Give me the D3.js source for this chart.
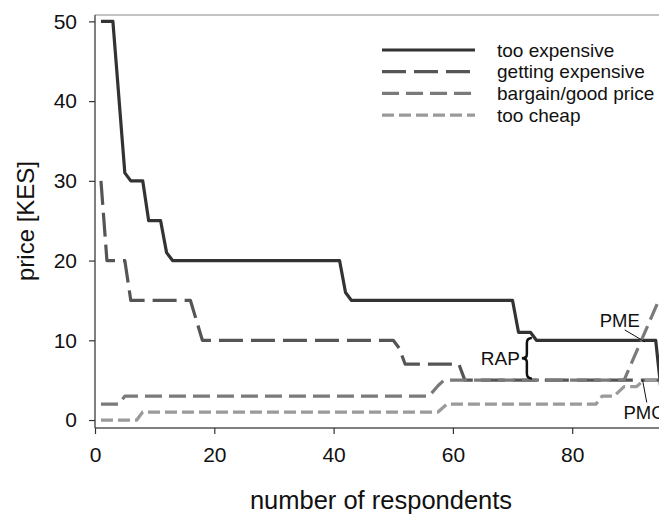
<!DOCTYPE html>
<html>
<head>
<meta charset="utf-8">
<script src="https://cdn.jsdelivr.net/npm/d3@7"></script>
<style>
  body { margin: 0; background: #fff; }
  svg { display: block; font-family: "Liberation Sans", Arial, sans-serif; }
</style>
</head>
<body>
<div id="chart"></div>
<script>
// Van Westendorp curves
const tooExpX = [1, 3, 5, 6, 8, 9, 11, 12, 13, 41, 42, 43, 70, 71, 73, 74, 94, 95];
const tooExpY = [50, 50, 31, 30, 30, 25, 25, 21, 20, 20, 16, 15, 15, 11, 11, 10, 10, 3];

const gettingExpX = [1, 2, 5, 6, 16, 18, 50, 51, 52, 61, 62, 95];
const gettingExpY = [30, 20, 20, 15, 15, 10, 10, 9, 7, 7, 5, 5];

const bargainX = [1, 4, 5, 56, 57.5, 58.5, 88.7, 94.5];
const bargainY = [2, 2, 3, 3, 4.3, 5, 5, 15];

const tooCheapX = [1, 7, 8, 57.5, 59, 84, 85, 87, 88.7, 90.8, 92, 95];
const tooCheapY = [0, 0, 1, 1, 2, 2, 3, 3, 4.2, 4.2, 5, 5];

const seriesNames = ["too expensive", "getting expensive", "bargain/good price", "too cheap"];
const xTicks = [0, 20, 40, 60, 80];
const yTicks = [0, 10, 20, 30, 40, 50];

const series = [
    { name: seriesNames[0], x: tooExpX, y: tooExpY, color: "#333", dash: null },
    { name: seriesNames[1], x: gettingExpX, y: gettingExpY, color: "#555", dash: "24,8" },
    { name: seriesNames[2], x: bargainX, y: bargainY, color: "#7a7a7a", dash: "17,7" },
    { name: seriesNames[3], x: tooCheapX, y: tooCheapY, color: "#9a9a9a", dash: "12,5" }
];

const W = 659, H = 514;
const plotLeft = 95, plotTop = 15, plotBottom = 428;

const x = d3.scaleLinear().domain([0, 100]).range([plotLeft, plotLeft + 100 * 5.965]);
const y = d3.scaleLinear().domain([-1, 50.8]).range([plotBottom, plotTop]);

const svg = d3.select("#chart").append("svg")
    .attr("width", W)
    .attr("height", H);

svg.append("defs").append("clipPath").attr("id", "plot")
    .append("rect")
    .attr("x", plotLeft).attr("y", plotTop)
    .attr("width", W - plotLeft).attr("height", plotBottom - plotTop);

// top border
svg.append("line")
    .attr("x1", plotLeft).attr("x2", W)
    .attr("y1", plotTop).attr("y2", plotTop)
    .attr("stroke", "#888").attr("stroke-width", 1.2);

// axes
const xAxis = svg.append("g")
    .attr("transform", `translate(0,${plotBottom})`)
    .call(d3.axisBottom(x).tickValues(xTicks).tickSize(6).tickPadding(13));
const yAxis = svg.append("g")
    .attr("transform", `translate(${plotLeft},0)`)
    .call(d3.axisLeft(y).tickValues(yTicks).tickSize(6).tickPadding(12));

[xAxis, yAxis].forEach(g => {
    g.select(".domain").attr("stroke", "#555").attr("stroke-width", 1.5);
    g.selectAll(".tick line").attr("stroke", "#333").attr("stroke-width", 1.2);
    g.selectAll(".tick text")
        .attr("fill", "#111")
        .style("font-size", "21px")
        .style("font-family", "Liberation Sans, Arial, sans-serif");
});
xAxis.select(".domain").attr("d", `M${plotLeft},0H${W}`);
yAxis.select(".domain").attr("d", `M0,${plotTop}V${plotBottom}`);

// axis titles
svg.append("text")
    .attr("x", 381).attr("y", 509)
    .attr("text-anchor", "middle")
    .style("font-size", "25.5px")
    .attr("fill", "#111")
    .text("number of respondents");

svg.append("text")
    .attr("transform", "translate(34,221) rotate(-90)")
    .attr("text-anchor", "middle")
    .style("font-size", "24px")
    .attr("fill", "#111")
    .text("price [KES]");

// curves
const line = d3.line().x(d => x(d[0])).y(d => y(d[1]));
const plot = svg.append("g").attr("clip-path", "url(#plot)");

series.forEach(s => {
    const pts = s.x.map((v, i) => [v, s.y[i]]);
    plot.append("path")
        .attr("d", line(pts))
        .attr("fill", "none")
        .attr("stroke", s.color)
        .attr("stroke-width", 3.2)
        .attr("stroke-linejoin", "round")
        .attr("stroke-dasharray", s.dash);
});

// legend
const legend = svg.append("g").attr("transform", "translate(382,50)");
series.forEach((s, i) => {
    const row = legend.append("g").attr("transform", `translate(0,${i * 21.7})`);
    row.append("line")
        .attr("x1", 0).attr("x2", 93)
        .attr("stroke", s.color)
        .attr("stroke-width", 3.2)
        .attr("stroke-dasharray", s.dash);
    row.append("text")
        .attr("x", 115).attr("y", 6.5)
        .style("font-size", "19px")
        .attr("fill", "#111")
        .text(s.name);
});

// RAP brace between too expensive (10) and getting expensive (5)
const braceX = 72.4, yTop = y(10.3), yBot = y(5.2), yMid = (yTop + yBot) / 2;
const bx = x(braceX);
svg.append("path")
    .attr("d", `M${bx + 5},${yTop} Q${bx},${yTop} ${bx},${yTop + 5} V${yMid - 4} Q${bx},${yMid} ${bx - 5},${yMid}`
        + ` Q${bx},${yMid} ${bx},${yMid + 4} V${yBot - 5} Q${bx},${yBot} ${bx + 5},${yBot}`)
    .attr("fill", "none")
    .attr("stroke", "#111")
    .attr("stroke-width", 2.5);
svg.append("text")
    .attr("x", bx - 7).attr("y", yMid + 7)
    .attr("text-anchor", "end")
    .style("font-size", "19px")
    .attr("fill", "#111")
    .text("RAP");

// PME and PMC markers
svg.append("line")
    .attr("x1", x(88.8)).attr("y1", y(11.3))
    .attr("x2", x(92.2)).attr("y2", y(9.8))
    .attr("stroke", "#111").attr("stroke-width", 1);
svg.append("text")
    .attr("x", x(84.6)).attr("y", y(11.7))
    .style("font-size", "18.5px")
    .attr("fill", "#111")
    .text("PME");

svg.append("line")
    .attr("x1", x(92.5)).attr("y1", y(2.2))
    .attr("x2", x(91.8)).attr("y2", y(5))
    .attr("stroke", "#111").attr("stroke-width", 1);
svg.append("text")
    .attr("x", x(88.6)).attr("y", y(0.1))
    .style("font-size", "18.5px")
    .attr("fill", "#111")
    .text("PMC");
</script>
</body>
</html>
